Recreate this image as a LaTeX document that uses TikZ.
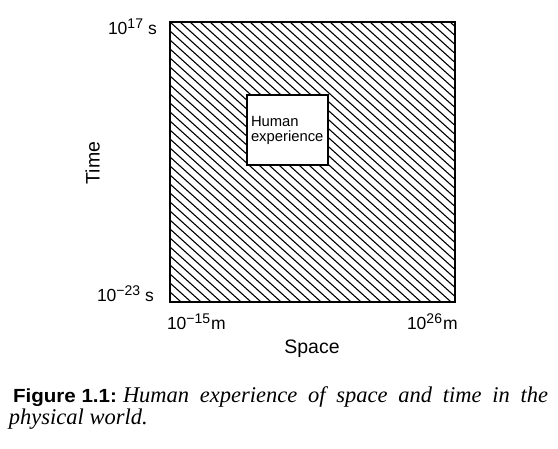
\documentclass[tikz,border=0pt]{standalone}
\usepackage{fontspec}
\setmainfont{Liberation Serif}
\newfontfamily\helv{Liberation Sans}
\newcommand{\tickfont}{\helv\fontsize{17.5}{20}\selectfont}
\newcommand{\supfont}{\helv\fontsize{14}{14}\selectfont}
\newcommand{\axfont}{\helv\fontsize{19.5}{22}\selectfont}
\newcommand{\boxfont}{\helv\fontsize{14.8}{15}\selectfont}
\newcommand{\capfont}{\fontsize{22.5}{22}\selectfont\itshape}
\newcommand{\figfont}{\helv\bfseries\fontsize{19}{22}\selectfont}
\newcommand{\sups}[1]{\raisebox{6pt}{\supfont #1}}
\tikzset{
  lbl/.style={inner sep=0pt, outer sep=0pt},
  hatch/.style={line width=1.1pt, black},
  frame/.style={line width=2pt, black},
}
\begin{document}
\begin{tikzpicture}[x=1pt,y=-1pt]
\useasboundingbox (0,0) rectangle (558,449);
\fill[white] (0,0) rectangle (558,449);
% hatching
\begin{scope}
\clip (170,22) rectangle (455,302);
\foreach \i in {-33,...,34} {
  \draw[hatch] (165,{22+9*\i-4.5}) -- (465,{22+9*\i+265.5});
}
\end{scope}
\draw[frame] (170,22) rectangle (455,302);
% inner box
\node[draw, frame, fill=white, minimum width=81pt, minimum height=70pt, inner sep=0pt] (human) at (287.5,130) {};
\node[lbl, anchor=base west, font=\boxfont] (hum1) at (251,126.7) {Human};
\node[lbl, anchor=base west, font=\boxfont] (hum2) at (251,141.7) {experience};
% tick labels
\node[lbl, anchor=base west, font=\tickfont] (t17) at (108,35) {10\sups{17}\hspace{5pt}s};
\node[lbl, anchor=base west, font=\tickfont] (t23) at (97,302) {10\sups{−23}\hspace{5pt}s};
\node[lbl, anchor=base west, font=\tickfont] (x15) at (167,330) {10\sups{−15}\hspace{1pt}m};
\node[lbl, anchor=base west, font=\tickfont] (x26) at (407,330) {10\sups{26}\hspace{1pt}m};
% axis labels
\node[lbl, anchor=base, font=\axfont] (space) at (312,354) {Space};
\node[lbl, anchor=base, font=\axfont, rotate=90] (time) at (99.5,163) {Time};
% caption
\node[lbl, anchor=base west, font=\figfont] (fig) at (13,403) {\resizebox{104pt}{\height}{Figure 1.1:}};
\node[lbl, anchor=base west, font=\capfont] (cap1) at (123,403) {\makebox[425pt][s]{Human experience of space and time in the}};
\node[lbl, anchor=base west, font=\capfont] (cap2) at (9,425) {physical world.};
\end{tikzpicture}
\end{document}
